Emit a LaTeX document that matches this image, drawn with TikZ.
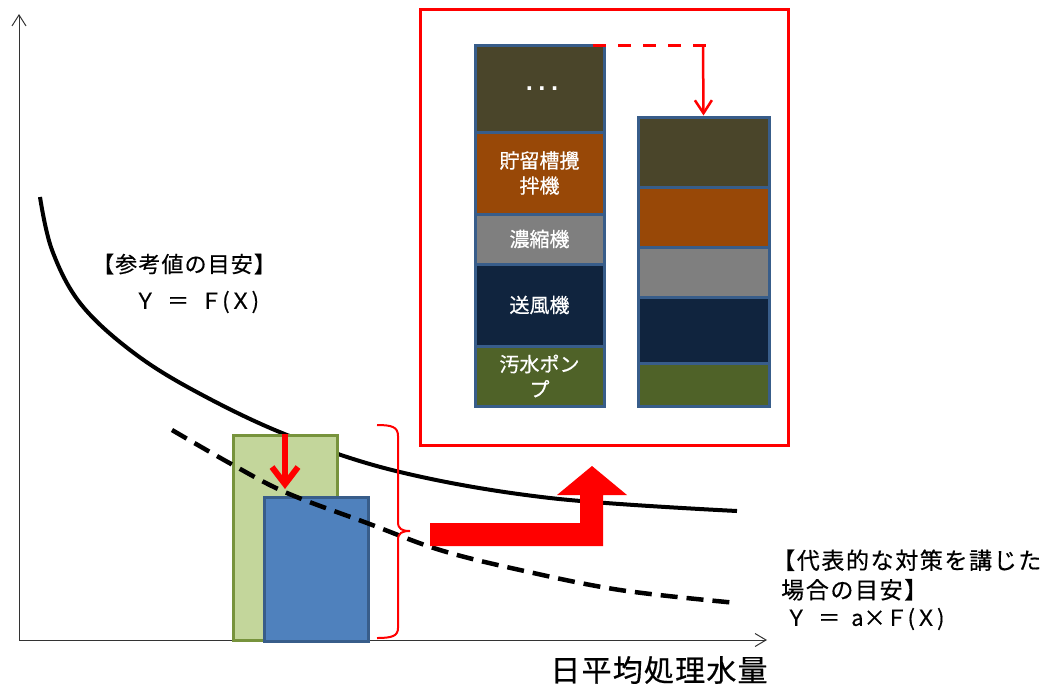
\documentclass[tikz,border=0pt]{standalone}
\usepackage{fontspec}
\setmainfont{Noto Sans CJK JP}
\newfontfamily\dotfont{DejaVu Sans}[LetterSpace=25]
\usetikzlibrary{arrows.meta}
\definecolor{segborder}{HTML}{385D8A}
\definecolor{cDark}{HTML}{4A452A}
\definecolor{cOrange}{HTML}{984807}
\definecolor{cGray}{HTML}{7F7F7F}
\definecolor{cNavy}{HTML}{10243E}
\definecolor{cOlive}{HTML}{4F6228}
\definecolor{gFill}{HTML}{C3D69B}
\definecolor{gLine}{HTML}{77933C}
\definecolor{bFill}{HTML}{4F81BD}
\definecolor{bLine}{HTML}{385D8A}
\definecolor{pRed}{HTML}{FF0000}
\begin{document}
\begin{tikzpicture}[x=1pt,y=-1pt,
  axis/.style={line width=1pt, draw=black!80,
    arrows={Straight Barb[length=11pt,width=14pt]-Straight Barb[length=11pt,width=13pt]}},
  curve/.style={line width=4pt, draw=black},
  dcurve/.style={line width=4.5pt, draw=black, dash pattern=on 17pt off 9pt},
  seg/.style={draw=segborder, line width=3pt, inner sep=0pt, text=white,
    align=center, font=\fontsize{20}{25}\selectfont\addfontfeature{FakeBold=0.5}},
  lseg/.style={seg, minimum width=129pt},
  rseg/.style={seg, minimum width=131pt},
  bar/.style={line width=3pt, inner sep=0pt},
  lbl/.style={inner sep=0pt, anchor=west, align=left,
    font=\fontsize{22}{29}\selectfont\addfontfeature{LetterSpace=5,FakeBold=0.5}},
  rlbl/.style={inner sep=0pt, anchor=west, align=left,
    font=\fontsize{23}{29.5}\selectfont\addfontfeature{LetterSpace=7,FakeBold=0.5}},
  fml/.style={inner sep=0pt, anchor=west,
    font=\fontsize{22}{29}\selectfont\addfontfeature{FakeBold=0.5}},
  redarrow/.style={draw=pRed, line width=2.5pt,
    -{Straight Barb[length=13pt,width=17pt]}},
  reddash/.style={draw=pRed, line width=3pt, dash pattern=on 13pt off 12pt}
]
\useasboundingbox (0,0) rectangle (1043,686);

% axes
\coordinate (O) at (19,640);
\coordinate (Ytop) at (19,14);
\coordinate (Xend) at (767,640);
\draw[axis] (Ytop) -- (O) -- (Xend);

% reference curve
\draw[curve] plot[smooth, tension=0.6] coordinates
  {(40,197) (52,250) (80,303) (130,350) (193,390) (287,435) (400,472) (550,498) (737,511)};

% bars
\node[bar, draw=gLine, fill=gFill, minimum width=104pt, minimum height=205pt] (g) at (285,537.5) {};
\node[bar, draw=bLine, fill=bFill, minimum width=104pt, minimum height=144pt] (b) at (316,569) {};

% measure curve
\draw[dcurve] plot[smooth, tension=0.6] coordinates
  {(172,430) (233,465) (287,493) (367,523) (440,550) (520,570) (620,590) (737,603)};

% drop arrow
\coordinate (dropTip) at (285,489);
\draw[draw=pRed, line width=6pt, -{Straight Barb[length=17pt,width=26pt]}] (g.north) -- (dropTip);

% bracket
\draw[draw=pRed, line width=2pt] (377,425) .. controls (392,425) and (398,427) .. (398,436)
  -- (398,522) .. controls (398,529) and (402,531) .. (410,531)
  .. controls (402,531) and (398,533) .. (398,540)
  -- (398,628) .. controls (398,636) and (392,638) .. (377,638);

% big L arrow
\fill[pRed] (430,523) -- (580,523) -- (580,495) -- (557,495) -- (592,466) -- (627,495)
  -- (603,495) -- (603,546) -- (430,546) -- cycle;

% frame
\node[draw=pRed, line width=3pt, minimum width=368pt, minimum height=436pt, inner sep=0pt] (frame) at (604,227) {};

% left stack
\node[lseg, fill=cDark, minimum height=87pt] (s1) at (539.5,88.5) {\dotfont\fontsize{20}{22}\selectfont\bfseries\hspace*{5pt}...};
\node[lseg, fill=cOrange, minimum height=82pt] (s2) at (539.5,173) {貯留槽攪\\拌機};
\node[lseg, fill=cGray, minimum height=50pt] (s3) at (539.5,239) {濃縮機};
\node[lseg, fill=cNavy, minimum height=82pt] (s4) at (539.5,305) {送風機};
\node[lseg, fill=cOlive, minimum height=60pt] (s5) at (539.5,376) {汚水ポン\\プ};

% right stack
\node[rseg, fill=cDark, minimum height=70pt] (r1) at (703.5,152) {};
\node[rseg, fill=cOrange, minimum height=60pt] (r2) at (703.5,217) {};
\node[rseg, fill=cGray, minimum height=50pt] (r3) at (703.5,272) {};
\node[rseg, fill=cNavy, minimum height=66pt] (r4) at (703.5,330) {};
\node[rseg, fill=cOlive, minimum height=43pt] (r5) at (703.5,384.5) {};

% dashed level and arrow
\coordinate (dStart) at (593,45);
\coordinate (dEnd) at (712,45);
\coordinate (dTop) at (703,45);
\draw[reddash] (dStart) -- (dEnd);
\draw[redarrow] (dTop) -- (r1.north);

% labels
\node[lbl] (ref1) at (92,264) {【参考値の目安】};
\node[fml] (ref2) at (134,302) {Ｙ\hspace{11pt}＝\hspace{11pt}Ｆ(Ｘ)};
\node[rlbl] (m1) at (772,575) {【代表的な対策を講じた\\\hspace*{9pt}場合の目安】};
\node[fml] (m2) at (785,619) {Ｙ\hspace{11pt}＝\hspace{11pt}a×Ｆ(Ｘ)};
\node[inner sep=0pt, font=\fontsize{30}{36}\selectfont\addfontfeature{LetterSpace=4,FakeBold=0.5}] (xlab) at (659,670) {日平均処理水量};
\end{tikzpicture}
\end{document}
